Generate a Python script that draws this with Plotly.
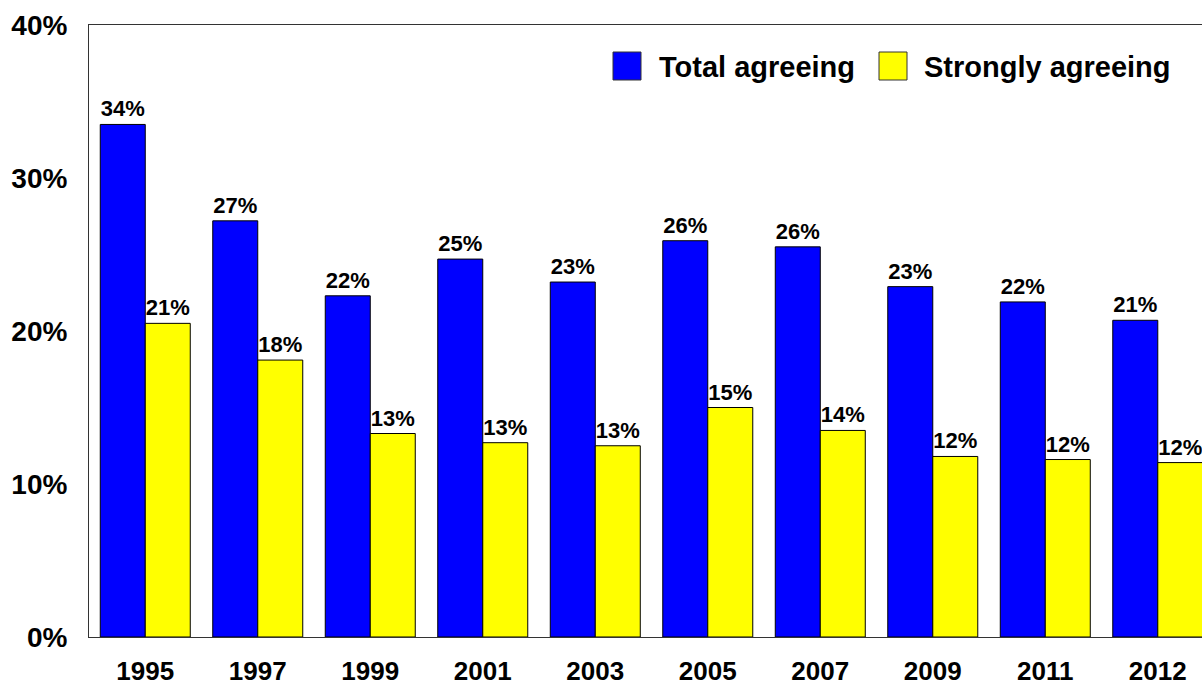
import plotly.graph_objects as go

# Survey share agreeing, by year
YEARS = ["1995", "1997", "1999", "2001", "2003", "2005", "2007", "2009", "2011", "2012"]
TOTAL_AGREEING = [33.5, 27.2, 22.3, 24.7, 23.2, 25.9, 25.5, 22.9, 21.9, 20.7]
STRONGLY_AGREEING = [20.5, 18.1, 13.3, 12.7, 12.5, 15.0, 13.5, 11.8, 11.6, 11.4]
TOTAL_LABELS = ["34%", "27%", "22%", "25%", "23%", "26%", "26%", "23%", "22%", "21%"]
STRONG_LABELS = ["21%", "18%", "13%", "13%", "13%", "15%", "14%", "12%", "12%", "12%"]
Y_TICKS = [0, 10, 20, 30, 40]
Y_TICK_TEXT = ["0%", "10%", "20%", "30%", "40%"]

BLUE = "#0000FF"
YELLOW = "#FFFF00"
FONT = "Liberation Sans, Arial, sans-serif"

W, H = 1202, 687
L, R, T, B = 89, 0, 25, 50
PW, PH = W - L - R, H - T - B


def px_x(p):
    # pixel -> paper x
    return (p - L) / PW


def px_y(q):
    # pixel -> paper y
    return (H - B - q) / PH


bar_common = dict(
    textposition="outside",
    constraintext="none",
    textfont=dict(family=FONT, size=22, color="black", weight="bold"),
    showlegend=False,
)

fig = go.Figure()
fig.add_trace(go.Bar(
    x=YEARS, y=TOTAL_AGREEING, name="Total agreeing", text=TOTAL_LABELS,
    marker=dict(color=BLUE, line=dict(color="black", width=1)),
    **bar_common,
))
fig.add_trace(go.Bar(
    x=YEARS, y=STRONGLY_AGREEING, name="Strongly agreeing", text=STRONG_LABELS,
    marker=dict(color=YELLOW, line=dict(color="black", width=1)),
    **bar_common,
))

# hand-drawn legend (big square swatches like the original)
for x0, x1, color, label, tx in [
    (613, 641, BLUE, "Total agreeing", 657),
    (879, 907, YELLOW, "Strongly agreeing", 922),
]:
    fig.add_shape(type="rect", xref="paper", yref="paper",
                  x0=px_x(x0), x1=px_x(x1), y0=px_y(80), y1=px_y(52),
                  fillcolor=color, line=dict(color="#333333", width=1))
    fig.add_annotation(xref="paper", yref="paper", x=px_x(tx), y=px_y(67),
                       xanchor="left", yanchor="middle", showarrow=False,
                       text=label,
                       font=dict(family=FONT, size=29, color="black", weight="bold"))

fig.update_layout(
    width=W, height=H,
    margin=dict(l=L, r=R, t=T, b=B, pad=0),
    barmode="group",
    bargap=0.2,
    bargroupgap=0,
    plot_bgcolor="white",
    paper_bgcolor="white",
    xaxis=dict(
        type="category",
        range=[-0.5, 9.393],
        showline=True, linecolor="#333333", linewidth=1, mirror=True,
        showgrid=False, ticks="", automargin=False,
        tickfont=dict(family=FONT, size=26, color="black", weight="bold"),
        ticklabelstandoff=11,
    ),
    yaxis=dict(
        range=[0, 40],
        tickvals=Y_TICKS, ticktext=Y_TICK_TEXT,
        showline=True, linecolor="#333333", linewidth=1,
        showgrid=False, zeroline=False, ticks="", automargin=False,
        tickfont=dict(family=FONT, size=28, color="black", weight="bold"),
        ticklabelstandoff=15,
    ),
)

# drop the default 8px body margin so the figure fills the window exactly
fig.write_html("out.html", config={"displayModeBar": False},
               post_script="document.body.style.margin='0';")
